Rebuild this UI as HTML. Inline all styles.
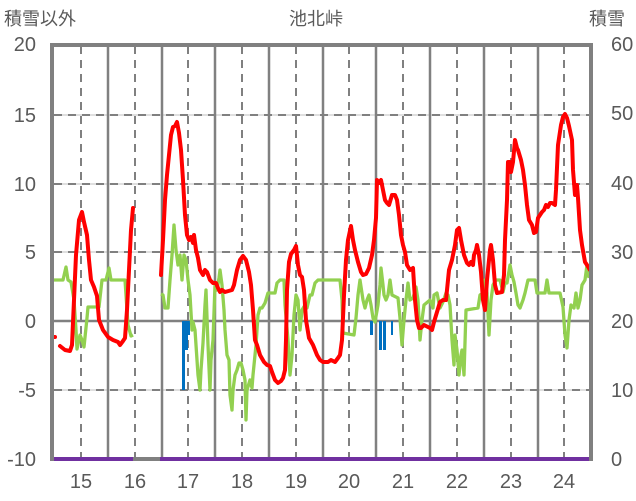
<!DOCTYPE html>
<html><head><meta charset="utf-8"><style>
body{margin:0;background:#fff}
svg{display:block}
text{font-family:"Liberation Sans","Noto Sans CJK JP",sans-serif;fill:#595959}
</style></head><body>
<svg width="636" height="501" viewBox="0 0 636 501">
<g stroke="#bfbfbf" stroke-width="1"><line x1="54" y1="115" x2="590" y2="115"/><line x1="54" y1="184" x2="590" y2="184"/><line x1="54" y1="252" x2="590" y2="252"/><line x1="54" y1="390" x2="590" y2="390"/></g>
<g stroke="#808080" stroke-width="2" stroke-dasharray="8,6"><line x1="54" y1="115" x2="590" y2="115"/><line x1="54" y1="184" x2="590" y2="184"/><line x1="54" y1="252" x2="590" y2="252"/><line x1="54" y1="390" x2="590" y2="390"/>
<line x1="81" y1="46" x2="81" y2="458"/><line x1="135" y1="46" x2="135" y2="458"/><line x1="188" y1="46" x2="188" y2="458"/><line x1="242" y1="46" x2="242" y2="458"/><line x1="296" y1="46" x2="296" y2="458"/><line x1="349" y1="46" x2="349" y2="458"/><line x1="403" y1="46" x2="403" y2="458"/><line x1="457" y1="46" x2="457" y2="458"/><line x1="511" y1="46" x2="511" y2="458"/><line x1="564" y1="46" x2="564" y2="458"/></g>
<g stroke="#808080" stroke-width="2.5"><line x1="108" y1="46" x2="108" y2="458"/><line x1="162" y1="46" x2="162" y2="458"/><line x1="215" y1="46" x2="215" y2="458"/><line x1="269" y1="46" x2="269" y2="458"/><line x1="323" y1="46" x2="323" y2="458"/><line x1="376" y1="46" x2="376" y2="458"/><line x1="430" y1="46" x2="430" y2="458"/><line x1="484" y1="46" x2="484" y2="458"/><line x1="538" y1="46" x2="538" y2="458"/><line x1="54" y1="321" x2="590" y2="321"/></g>
<g fill="#0070c0"><rect x="182" y="321" width="3" height="69"/><rect x="185" y="321" width="3" height="29"/><rect x="188" y="321" width="2" height="14"/><rect x="370" y="321" width="3" height="14"/><rect x="379" y="321" width="3" height="29"/><rect x="383" y="321" width="3" height="29"/><rect x="391" y="321" width="2" height="14"/></g>
<g fill="none" stroke="#92d050" stroke-width="3.3" stroke-linejoin="round">
<polyline points="52,280 63,280 66,267 68,280 71,282 74,300 76,330 77,349 80,335 82,340 84,347 87,318 88,307 99,307 102,280 106,280 109,268 111,280 125,280 128,325 131,336 133,335"/>
<polyline points="161,294 163,295 165,308 168,308 170,280 172,255 174,225 176,250 178,265 180,255 182,280 184,255 186,260 188,280 190,295 192,330 193,322 195,330 196,345 198,375 200,390 201,370 203,343 205,305 206,290 208,345 210,390 211,360 213,340 215,285 217,290 219,278 220,270 222,285 224,310 225,330 227,355 229,360 230,395 232,410 233,390 235,375 237,370 239,363 241,363 243,370 245,380 246,420 247,390 250,380 252,388 253,375 256,345 258,315 260,308 262,308 265,303 268,293 275,293 277,283 280,280 284,280 285,305 288,340 290,375 292,355 294,315 296,295 298,300 300,330 302,310 305,305 307,308 310,295 312,295 315,283 318,280 340,280 342,300 343,333 354,335 356,318 358,295 360,280 363,300 365,308 367,300 369,295 371,305 373,318 375,322 378,305 380,285 381,268 383,285 384,295 386,300 388,295 390,280 392,295 398,298 400,318 402,345 404,320 406,300 408,283 410,300 413,298 416,287 418,300 420,340 422,320 424,305 430,300 433,308 434,295 437,293 440,308 443,302 446,293 448,295 450,305 452,340 454,365 455,335 457,350 459,375 461,355 462,350 464,375 466,310 478,308 480,295 483,293 485,280 487,293 489,335 491,300 493,285 496,280 500,280 503,292 505,283 507,283 510,265 512,275 514,282 516,293 518,305 520,308 523,300 525,293 528,280 535,280 537,293 545,293 547,280 549,293 560,293 563,307 565,335 567,348 569,320 571,305 574,308 576,293 578,308 580,300 582,285 585,280 587,265 589,278"/>
</g>
<g fill="none" stroke="#ff0000" stroke-width="4" stroke-linejoin="round" stroke-linecap="round">
<polyline points="54,337 55,337"/>
<polyline points="60,346 65,350 70,351 72,345 74,300 76,255 79,220 82,212 84,222 87,235 89,260 91,280 94,287 97,296 99,320 103,330 108,337 113,340 118,342 120,345 123,341 125,338 127,310 129,270 131,230 133,208"/>
<polyline points="161,275 163,240 165,200 167,175 169,155 171,135 173,127 175,126 177,122 179,133 181,150 183,180 185,215 187,235 189,240 191,237 193,243 194,235 196,250 198,258 200,270 203,275 205,270 207,272 210,280 213,283 216,283 218,288 220,292 222,290 225,292 232,290 234,285 237,270 240,260 243,256 246,260 249,272 251,285 253,310 255,340 257,345 260,355 264,362 267,365 270,366 272,372 275,380 278,383 281,381 283,378 285,370 286,340 287,290 289,262 291,254 294,250 296,246 298,265 300,275 302,277 304,290 306,320 309,338 313,345 317,355 320,360 323,362 328,362 331,360 335,362 338,358 340,355 342,340 344,295 346,260 348,240 351,226 353,240 355,250 358,262 361,272 363,275 366,274 369,268 372,255 374,240 376,218 377,180 379,183 381,180 383,190 385,200 387,203 389,205 392,195 395,195 397,200 399,215 401,235 403,245 405,252 407,265 410,270 413,268 415,300 417,320 419,328 421,328 424,325 430,328 432,330 434,322 437,312 440,302 443,300 446,300 449,270 452,260 455,245 457,230 459,228 461,240 464,255 467,263 469,265 471,262 473,265 474,255 476,250 477,245 479,255 481,272 483,300 485,310 487,280 490,250 491,245 493,260 495,285 497,293 502,292 504,275 505,240 507,200 508,162 510,162 511,172 513,162 515,140 517,148 518,150 521,160 523,170 525,185 527,205 529,220 532,225 534,233 536,232 538,218 540,215 542,212 544,210 546,205 548,207 550,203 552,203 555,205 556,190 558,145 561,125 563,117 565,114 567,118 569,126 572,140 573,170 575,195 577,185 578,198 580,230 582,245 585,262 587,265 590,270"/>
</g>
<line x1="52" y1="459" x2="133" y2="459" stroke="#7030a0" stroke-width="4"/>
<line x1="133" y1="459" x2="160" y2="459" stroke="#808080" stroke-width="4"/>
<line x1="160" y1="459" x2="590" y2="459" stroke="#7030a0" stroke-width="4"/>
<polyline points="52,461 52,45 591,45 591,461" fill="none" stroke="#808080" stroke-width="4"/>
<g font-size="20" text-anchor="end"><text x="36" y="51">20</text><text x="36" y="122">15</text><text x="36" y="191">10</text><text x="36" y="259">5</text><text x="36" y="328">0</text><text x="36" y="397">-5</text><text x="36" y="466">-10</text></g>
<g font-size="20" text-anchor="start"><text x="611" y="51">60</text><text x="611" y="120">50</text><text x="611" y="190">40</text><text x="611" y="259">30</text><text x="611" y="328">20</text><text x="611" y="397">10</text><text x="611" y="466">0</text></g>
<g font-size="20" text-anchor="middle"><text x="81" y="488">15</text><text x="135" y="488">16</text><text x="188" y="488">17</text><text x="242" y="488">18</text><text x="296" y="488">19</text><text x="349" y="488">20</text><text x="403" y="488">21</text><text x="457" y="488">22</text><text x="511" y="488">23</text><text x="564" y="488">24</text></g>
<text x="4" y="25" font-size="18">積雪以外</text>
<text x="316" y="25" font-size="18" text-anchor="middle">池北峠</text>
<text x="589" y="25" font-size="18">積雪</text>
</svg>
</body></html>
